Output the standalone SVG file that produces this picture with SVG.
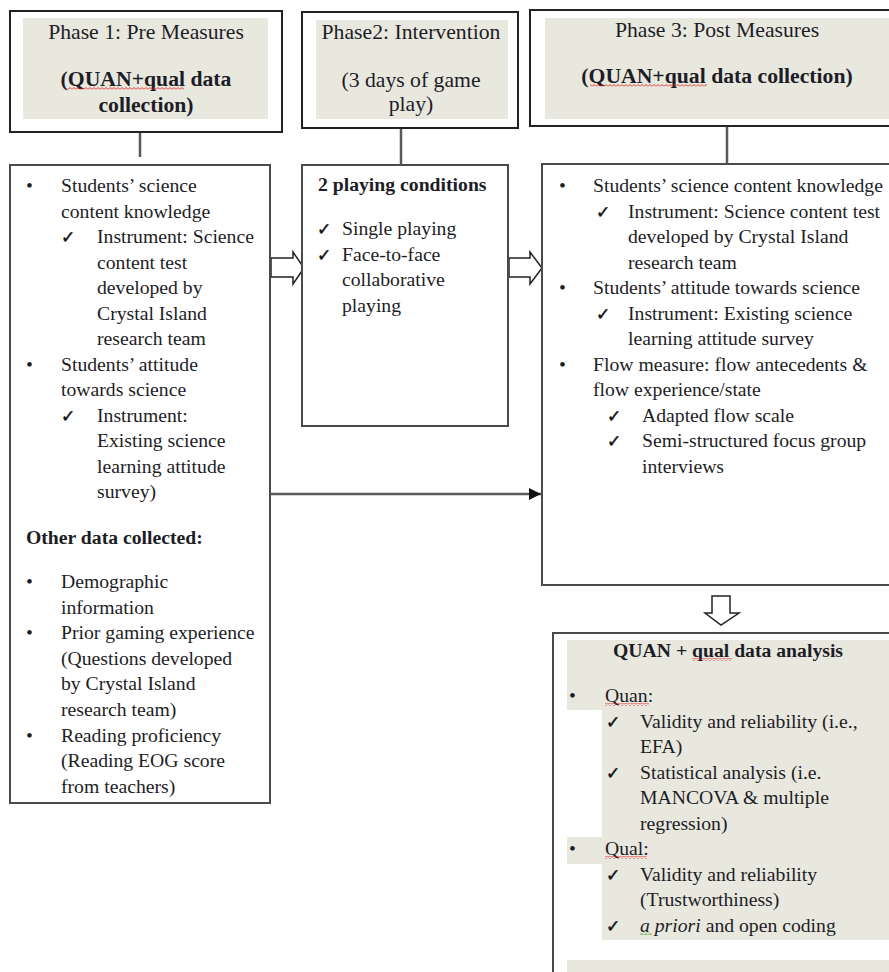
<svg xmlns="http://www.w3.org/2000/svg" width="889" height="972" viewBox="0 0 889 972">
<style>
.t{font-family:"Liberation Serif","Times New Roman",serif;font-size:19.7px;fill:#1d1d26}
.h{font-family:"Liberation Serif","Times New Roman",serif;font-size:21.7px;fill:#1d1d26}
.b{font-weight:bold}
.ck{font-family:"DejaVu Sans",sans-serif;font-size:17px;fill:#111;stroke:#111;stroke-width:0.5}
.hbox{fill:#fff;stroke:#222;stroke-width:2}
.body{fill:#fff;stroke:#4a4a4a;stroke-width:2}
.shade{fill:#e9e8df}
.conn{stroke:#5a5a5a;stroke-width:2.5;fill:none}
.blk{fill:#fff;stroke:#222;stroke-width:1.5}
</style>
<defs>
<pattern id="sqr" width="4" height="3" patternUnits="userSpaceOnUse"><path d="M0,2.5 L2,0.5 L4,2.5" stroke="#e02020" stroke-width="0.9" fill="none"/></pattern>
<pattern id="sqg" width="4" height="3" patternUnits="userSpaceOnUse"><path d="M0,2.5 L2,0.5 L4,2.5" stroke="#2a9a2a" stroke-width="0.9" fill="none"/></pattern>
<marker id="ah" viewBox="0 0 10 10" refX="10" refY="5" markerWidth="5" markerHeight="5" orient="auto" markerUnits="strokeWidth"><path d="M0,0 L10,5 L0,10 Z" fill="#111"/></marker>
</defs>
<rect width="889" height="972" fill="#fff"/>

<g id="connectors">
<line class="conn" x1="140" y1="132" x2="140" y2="157"/>
<line class="conn" x1="401" y1="128" x2="401" y2="165"/>
<line class="conn" x1="727" y1="127" x2="727" y2="164"/>
<line class="conn" x1="270" y1="494" x2="541" y2="494" marker-end="url(#ah)"/>
<path class="blk" d="M271,258 L293,258 L293,252 L304,268 L293,284 L293,277 L271,277 Z"/>
<path class="blk" d="M509,258 L530,258 L530,252 L542,268 L530,284 L530,277 L509,277 Z"/>
<path class="blk" d="M712,596 L730,596 L730,613 L739,613 L721,625 L705,613 L712,613 Z"/>
</g>

<g id="phase1-header">
<rect class="hbox" x="10" y="11" width="272" height="121"/>
<rect class="shade" x="23" y="18" width="245" height="101"/>
<text class="h" x="146" y="39" text-anchor="middle">Phase 1: Pre Measures</text>
<text class="h b" x="146" y="86" text-anchor="middle">(QUAN+qual data</text>
<text class="h b" x="146" y="112" text-anchor="middle">collection)</text>
<rect x="67" y="87" width="117" height="3" fill="url(#sqr)"/>
</g>

<g id="phase2-header">
<rect class="hbox" x="302" y="12" width="216" height="116"/>
<rect class="shade" x="316" y="20" width="192" height="99"/>
<text class="h" x="411" y="39" text-anchor="middle">Phase2: Intervention</text>
<text class="h" x="411" y="87" text-anchor="middle">(3 days of game</text>
<text class="h" x="411" y="111" text-anchor="middle">play)</text>
</g>

<g id="phase3-header">
<rect class="hbox" x="530" y="10" width="380" height="116"/>
<rect class="shade" x="545" y="18" width="344" height="101"/>
<text class="h" x="717" y="37" text-anchor="middle">Phase 3: Post Measures</text>
<text class="h b" x="717" y="83" text-anchor="middle">(QUAN+qual data collection)</text>
<rect x="590" y="84" width="117" height="3" fill="url(#sqr)"/>
</g>

<g id="phase1-body">
<rect class="body" x="10" y="165" width="260" height="638"/>
<text class="t" x="26" y="192">•</text><text class="t" x="61" y="192">Students’ science</text>
<text class="t" x="61" y="217.5">content knowledge</text>
<text class="ck" x="61" y="243">✓</text><text class="t" x="97" y="243">Instrument: Science</text>
<text class="t" x="97" y="268.5">content test</text>
<text class="t" x="97" y="294">developed by</text>
<text class="t" x="97" y="319.5">Crystal Island</text>
<text class="t" x="97" y="345">research team</text>
<text class="t" x="26" y="370.5">•</text><text class="t" x="61" y="370.5">Students’ attitude</text>
<text class="t" x="61" y="396">towards science</text>
<text class="ck" x="61" y="421.5">✓</text><text class="t" x="97" y="421.5">Instrument:</text>
<text class="t" x="97" y="447">Existing science</text>
<text class="t" x="97" y="472.5">learning attitude</text>
<text class="t" x="97" y="498">survey)</text>
<text class="t b" x="26" y="544">Other data collected:</text>
<text class="t" x="26" y="588">•</text><text class="t" x="61" y="588">Demographic</text>
<text class="t" x="61" y="613.6">information</text>
<text class="t" x="26" y="639.2">•</text><text class="t" x="61" y="639.2">Prior gaming experience</text>
<text class="t" x="61" y="664.8">(Questions developed</text>
<text class="t" x="61" y="690.4">by Crystal Island</text>
<text class="t" x="61" y="716">research team)</text>
<text class="t" x="26" y="741.6">•</text><text class="t" x="61" y="741.6">Reading proficiency</text>
<text class="t" x="61" y="767.2">(Reading EOG score</text>
<text class="t" x="61" y="792.8">from teachers)</text>
</g>

<g id="phase2-body">
<rect class="body" x="302" y="165" width="206" height="261"/>
<text class="t b" x="318" y="191">2 playing conditions</text>
<text class="ck" x="317" y="235">✓</text><text class="t" x="342" y="235">Single playing</text>
<text class="ck" x="317" y="260.5">✓</text><text class="t" x="342" y="260.5">Face-to-face</text>
<text class="t" x="342" y="286">collaborative</text>
<text class="t" x="342" y="311.5">playing</text>
</g>

<g id="phase3-body">
<rect class="body" x="542" y="164" width="370" height="421"/>
<text class="t" x="559" y="192">•</text><text class="t" x="593" y="192">Students’ science content knowledge</text>
<text class="ck" x="596" y="217.5">✓</text><text class="t" x="628" y="217.5">Instrument: Science content test</text>
<text class="t" x="628" y="243">developed by Crystal Island</text>
<text class="t" x="628" y="268.5">research team</text>
<text class="t" x="559" y="294">•</text><text class="t" x="593" y="294">Students’ attitude towards science</text>
<text class="ck" x="596" y="319.5">✓</text><text class="t" x="628" y="319.5">Instrument: Existing science</text>
<text class="t" x="628" y="345">learning attitude survey</text>
<text class="t" x="559" y="370.5">•</text><text class="t" x="593" y="370.5">Flow measure: flow antecedents &amp;</text>
<text class="t" x="593" y="396">flow experience/state</text>
<text class="ck" x="607" y="421.5">✓</text><text class="t" x="642" y="421.5">Adapted flow scale</text>
<text class="ck" x="607" y="447">✓</text><text class="t" x="642" y="447">Semi-structured focus group</text>
<text class="t" x="642" y="472.5">interviews</text>
</g>

<g id="analysis">
<rect class="body" x="553" y="633" width="360" height="360"/>
<path class="shade" d="M567,640 H889 V710 H567 Z M602,710 H889 V837 H602 Z M567,837 H889 V864 H567 Z M602,864 H889 V940 H602 Z M567,960 H889 V972 H567 Z"/>
<text class="t b" x="613" y="657">QUAN + qual data analysis</text>
<rect x="692" y="658" width="40" height="3" fill="url(#sqr)"/>
<text class="t" x="569" y="702">•</text><text class="t" x="605" y="702">Quan:</text>
<rect x="605" y="703" width="44" height="3" fill="url(#sqr)"/>
<text class="ck" x="606" y="727.5">✓</text><text class="t" x="640" y="727.5">Validity and reliability (i.e.,</text>
<text class="t" x="640" y="753">EFA)</text>
<text class="ck" x="606" y="778.5">✓</text><text class="t" x="640" y="778.5">Statistical analysis (i.e.</text>
<text class="t" x="640" y="804">MANCOVA &amp; multiple</text>
<text class="t" x="640" y="829.5">regression)</text>
<text class="t" x="569" y="855">•</text><text class="t" x="605" y="855">Qual:</text>
<rect x="605" y="856" width="42" height="3" fill="url(#sqr)"/>
<text class="ck" x="606" y="880.5">✓</text><text class="t" x="640" y="880.5">Validity and reliability</text>
<text class="t" x="640" y="906">(Trustworthiness)</text>
<text class="ck" x="606" y="931.5">✓</text><text class="t" x="640" y="931.5"><tspan font-style="italic">a priori</tspan> and open coding</text>
<rect x="640" y="932" width="12" height="3" fill="url(#sqg)"/>
</g>
</svg>
